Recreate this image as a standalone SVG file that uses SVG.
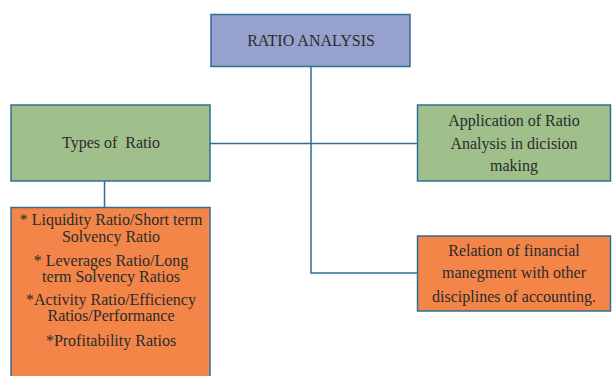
<svg xmlns="http://www.w3.org/2000/svg" width="612" height="376" viewBox="0 0 612 376">
<style>
.box{stroke:#2f6f96;stroke-width:1.5}
.blue{fill:#96a2cd}
.green{fill:#9fbf8b}
.orange{fill:#f38549}
text{font-family:"Liberation Serif","DejaVu Serif",serif;font-size:16px;fill:#2b2b2b;text-anchor:middle}
.conn{stroke:#2f6f96;stroke-width:1.5;fill:none}
</style>
<rect width="612" height="376" fill="#ffffff"/>
<g id="connectors">
<path class="conn" d="M311,67 V273 H417"/>
<path class="conn" d="M210,143.5 H417"/>
<path class="conn" d="M104.5,181 V207"/>
</g>
<g id="ratio-analysis">
<rect class="box blue" x="211" y="14.5" width="199" height="52"/>
<text x="311" y="46">RATIO ANALYSIS</text>
</g>
<g id="types-of-ratio">
<rect class="box green" x="11" y="105" width="199" height="76"/>
<text x="111" y="148" style="white-space:pre">Types of  Ratio</text>
</g>
<g id="application">
<rect class="box green" x="417.5" y="105" width="193" height="76"/>
<text x="514" y="126">Application of Ratio</text>
<text x="514" y="149">Analysis in dicision</text>
<text x="514" y="171">making</text>
</g>
<g id="ratio-types-list">
<rect class="box orange" x="11" y="207.5" width="199" height="172"/>
<text x="111" y="225">* Liquidity Ratio/Short term</text>
<text x="111" y="242">Solvency Ratio</text>
<text x="111" y="266">* Leverages Ratio/Long</text>
<text x="111" y="282">term Solvency Ratios</text>
<text x="111" y="305">*Activity Ratio/Efficiency</text>
<text x="111" y="321">Ratios/Performance</text>
<text x="111" y="346">*Profitability Ratios</text>
</g>
<g id="relation">
<rect class="box orange" x="417.5" y="236" width="193" height="75"/>
<text x="514" y="256">Relation of financial</text>
<text x="514" y="278">manegment with other</text>
<text x="514" y="302">disciplines of accounting.</text>
</g>
</svg>
